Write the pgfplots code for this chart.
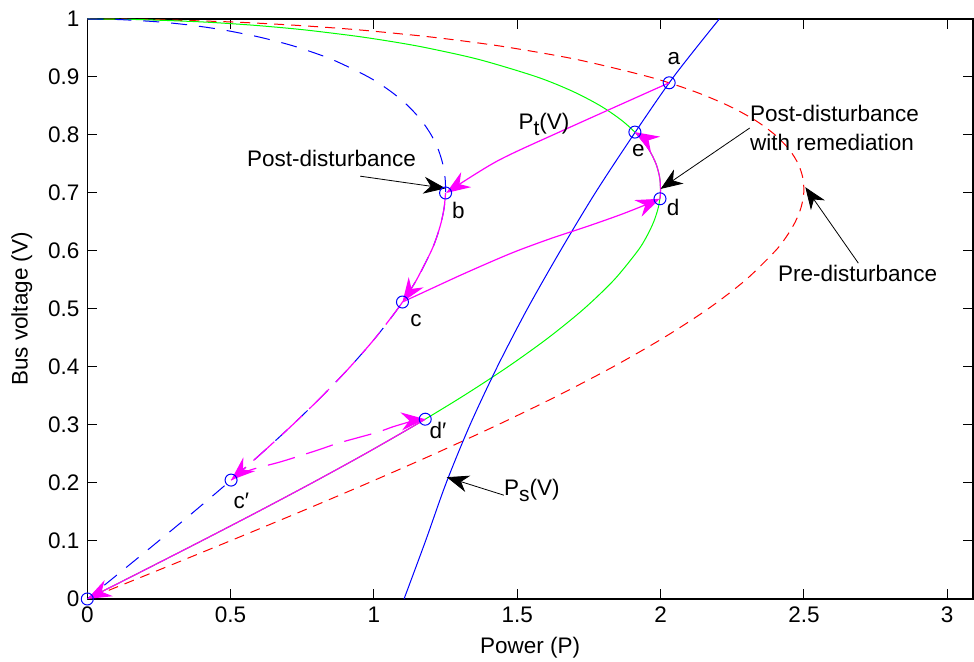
\documentclass[border=0pt]{standalone}
\usepackage{fontspec}
\setmainfont{Liberation Sans}
\usepackage{pgfplots}
\pgfplotsset{compat=1.18}
\usetikzlibrary{arrows.meta}
\definecolor{mgreen}{rgb}{0,1,0}
\definecolor{mmag}{rgb}{1,0,1}
\begin{document}
\fontsize{11.25}{13.5}\selectfont
\begin{tikzpicture}[
  magarrow/.style={-{Stealth[length=12pt,width=9pt,inset=4pt]}},
  blkarrow/.style={black, line width=0.4pt, -{Stealth[length=11pt,width=8.5pt,inset=3.5pt]}},
  lbl/.style={inner sep=0pt, anchor=base west},
]
\useasboundingbox (-43.65pt,-31.5pt) rectangle (443.35pt,299.5pt);
\begin{axis}[
  at={(0,0)}, anchor=south west,
  scale only axis, width=442.85pt, height=290pt,
  xmin=0, xmax=3.09, ymin=0, ymax=1,
  xtick={0,0.5,1,1.5,2,2.5,3},
  ytick={0,0.1,0.2,0.3,0.4,0.5,0.6,0.7,0.8,0.9,1},
  clip=false,
  axis line style={line width=0.6pt},
  tick align=inside, xtick pos=both, ytick pos=both,
  major tick length=5pt,
  every tick/.style={black, line width=0.5pt},
  /pgf/number format/assume math mode=true,
  xlabel={Power (P)}, ylabel={Bus voltage (V)},
  every axis x label/.style={at={(axis description cs:0.5,-0.0845)}, anchor=center},
  every axis y label/.style={at={(axis description cs:-0.0738,0.5)}, anchor=center, rotate=90},
]
% Pre-disturbance (red dashed)
\addplot[red, line width=0.5pt, dash pattern=on 5pt off 3.5pt, smooth] coordinates {
(0,1) (0.2234,0.999) (0.4969,0.995) (0.6983,0.99) (0.8498,0.985) (0.9751,0.98) (1.1791,0.97)
(1.344,0.96) (1.4832,0.95) (1.7095,0.93) (1.9615,0.9) (2.118,0.875) (2.2388,0.85) (2.3312,0.825)
(2.4,0.8) (2.4488,0.775) (2.4804,0.75) (2.4967,0.725) (2.4995,0.7) (2.4901,0.675) (2.4698,0.65)
(2.4394,0.625) (2.4,0.6) (2.2967,0.55) (2.1651,0.5) (2.0093,0.45) (1.8331,0.4) (1.6393,0.35)
(1.4309,0.3) (1.2103,0.25) (0.9798,0.2) (0.7415,0.15) (0.4975,0.1) (0.2497,0.05) (0,0)};
% Post-disturbance with remediation (green)
\addplot[mgreen, line width=0.5pt, smooth] coordinates {
(0,1) (0.1787,0.999) (0.3975,0.995) (0.5586,0.99) (0.6798,0.985) (0.7801,0.98) (0.9432,0.97)
(1.0752,0.96) (1.1866,0.95) (1.3676,0.93) (1.5692,0.9) (1.6944,0.875) (1.791,0.85) (1.8649,0.825)
(1.92,0.8) (1.9591,0.775) (1.9843,0.75) (1.9974,0.725) (1.9996,0.7) (1.9921,0.675) (1.9758,0.65)
(1.9515,0.625) (1.92,0.6) (1.8374,0.55) (1.732,0.5) (1.6074,0.45) (1.4664,0.4) (1.3114,0.35)
(1.1447,0.3) (0.9682,0.25) (0.7838,0.2) (0.5932,0.15) (0.398,0.1) (0.1998,0.05) (0,0)};
% Post-disturbance (blue dashed)
\addplot[blue, line width=0.5pt, dash pattern=on 8pt off 6pt, smooth] coordinates {
(0,1) (0.1117,0.999) (0.2484,0.995) (0.3492,0.99) (0.4249,0.985) (0.4876,0.98) (0.5895,0.97)
(0.672,0.96) (0.7416,0.95) (0.8548,0.93) (0.9808,0.9) (1.059,0.875) (1.1194,0.85) (1.1656,0.825)
(1.2,0.8) (1.2244,0.775) (1.2402,0.75) (1.2484,0.725) (1.2498,0.7) (1.2451,0.675) (1.2349,0.65)
(1.2197,0.625) (1.2,0.6) (1.1484,0.55) (1.0825,0.5) (1.0047,0.45) (0.9165,0.4) (0.8197,0.35)
(0.7155,0.3) (0.6052,0.25) (0.4899,0.2) (0.3708,0.15) (0.2488,0.1) (0.1249,0.05) (0,0)};
% P_s(V) (blue solid)
\addplot[blue, line width=0.5pt, smooth] coordinates {
(1.105,0) (1.18,0.1) (1.252,0.2) (1.335,0.3) (1.43,0.4) (1.535,0.5) (1.65,0.6)
(1.772,0.7) (1.905,0.8) (2.045,0.9) (2.205,1.0)};
% Trajectory (magenta)
\addplot[mmag, line width=0.6pt, smooth, magarrow] coordinates {
(2.03,0.89) (1.66,0.808) (1.43,0.755) (1.252,0.70)};
\addplot[mmag, line width=0.6pt, smooth, magarrow] coordinates {
(1.2498,0.70) (1.2451,0.675) (1.2349,0.65) (1.2197,0.625) (1.2,0.6) (1.1484,0.55) (1.1171,0.525) (1.0995,0.512)};
\addplot[mmag, line width=0.6pt, smooth, magarrow] coordinates {
(1.0995,0.512) (1.2,0.535) (1.31,0.56) (1.43,0.586) (1.509,0.602) (1.62,0.622) (1.742,0.642)
(1.857,0.662) (1.95,0.68) (1.998,0.69)};
\addplot[mmag, line width=0.6pt, smooth, magarrow] coordinates {
(1.9977,0.69) (1.9996,0.70) (1.9974,0.725) (1.9843,0.75) (1.9591,0.775) (1.92,0.8) (1.9104,0.805)};
\addplot[mmag, line width=0.6pt, dash pattern=on 14pt off 5pt, smooth, magarrow] coordinates {
(1.0995,0.512) (1.0825,0.5) (1.0047,0.45) (0.9165,0.4) (0.8197,0.35) (0.7155,0.3) (0.6052,0.25) (0.5016,0.205)};
\addplot[mmag, line width=0.6pt, dash pattern=on 14pt off 6pt, smooth, magarrow] coordinates {
(0.5016,0.205) (0.567,0.222) (0.678,0.237) (0.812,0.258) (0.87,0.268) (1.009,0.287) (1.067,0.297)
(1.137,0.307) (1.179,0.31)};
\addplot[mmag, line width=0.6pt, smooth, magarrow] coordinates {
(1.179,0.31) (1.1447,0.3) (0.9682,0.25) (0.7838,0.2) (0.5932,0.15) (0.398,0.1) (0.1998,0.05) (0,0)};
% Operating points
\addplot[only marks, mark=o, blue, mark size=3pt, mark options={line width=0.5pt}] coordinates {
(0,0) (2.03,0.89) (1.25,0.70) (1.0995,0.512) (1.998,0.69) (1.9104,0.805) (0.5016,0.205) (1.179,0.31)};
% Labels
\node[lbl] at (axis cs:2.023,0.9207) {a};
\node[lbl] at (axis cs:1.271,0.656) {b};
\node[lbl] at (axis cs:1.126,0.4695) {c};
\node[lbl] at (axis cs:2.021,0.662) {d};
\node[lbl] at (axis cs:1.899,0.7626) {e};
\node[lbl] at (axis cs:0.509,0.156) {c′};
\node[lbl] at (axis cs:1.193,0.277) {d′};
\node[lbl] at (axis cs:1.503,0.8098) {P\raisebox{-0.5ex}{\fontsize{10.5}{11}\selectfont t}(V)};
\node[lbl] at (axis cs:1.453,0.179) {P\raisebox{-0.5ex}{\fontsize{10.5}{11}\selectfont s}(V)};
\node[lbl] at (axis cs:0.556,0.745) {Post-disturbance};
\node[lbl] at (axis cs:2.311,0.8224) {Post-disturbance};
\node[lbl] at (axis cs:2.311,0.773) {with remediation};
\node[lbl] at (axis cs:2.409,0.547) {Pre-disturbance};
% Annotation arrows
\draw[blkarrow] (axis cs:0.952,0.729) -- (axis cs:1.25,0.708);
\draw[blkarrow] (axis cs:2.311,0.812) -- (axis cs:2.0,0.707);
\draw[blkarrow] (axis cs:2.69,0.579) -- (axis cs:2.505,0.71);
\draw[blkarrow] (axis cs:1.453,0.179) -- (axis cs:1.254,0.21);
\end{axis}
\end{tikzpicture}
\end{document}
